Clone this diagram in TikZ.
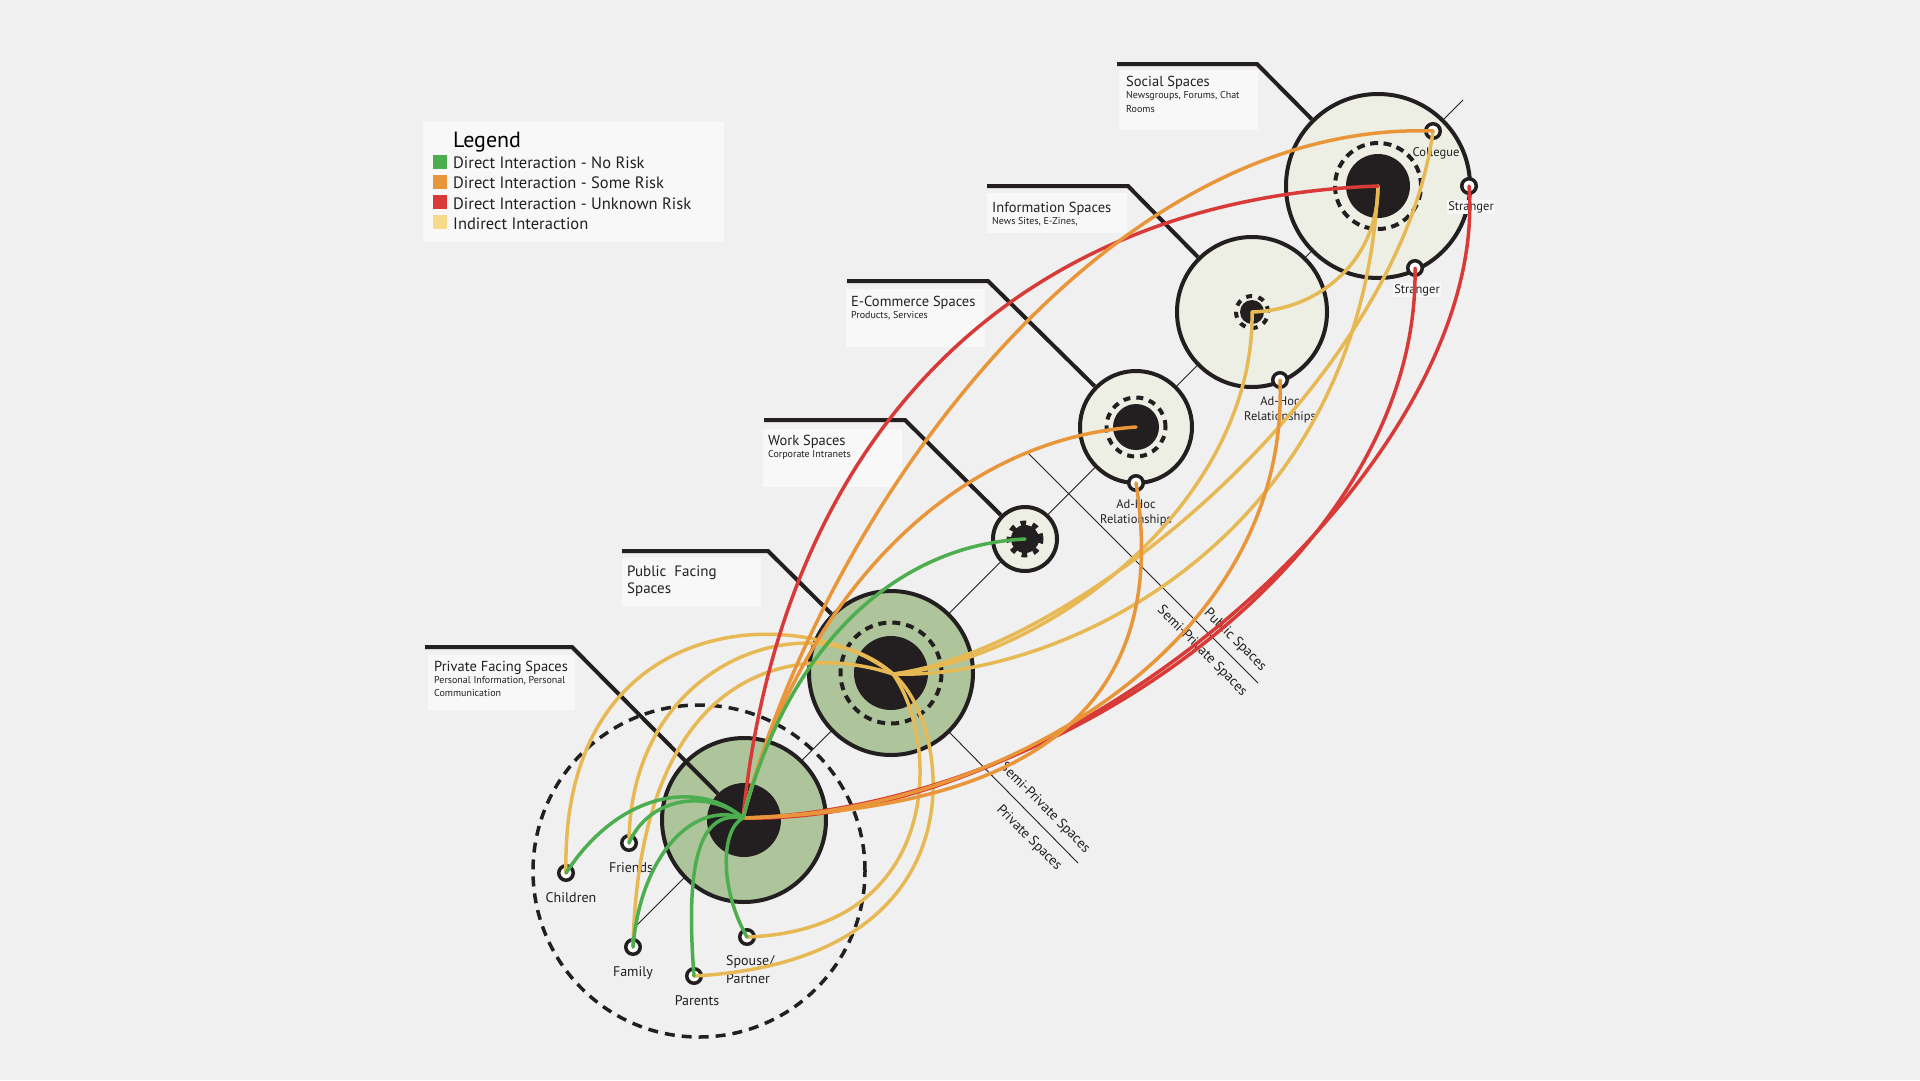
\documentclass[tikz,border=0pt]{standalone}
\usepackage{fontspec}
\setmainfont{PT Sans}
\definecolor{bgc}{HTML}{F0F0F0}
\definecolor{ink}{HTML}{231F20}
\definecolor{boxc}{HTML}{F8F8F8}
\definecolor{cgreen}{HTML}{4DAE50}
\definecolor{corange}{HTML}{E9963B}
\definecolor{cred}{HTML}{D83A37}
\definecolor{cyellow}{HTML}{E7B955}
\definecolor{legyellow}{HTML}{F6D98A}
\definecolor{pale}{HTML}{EDEFE5}
\definecolor{sage}{HTML}{AEC49B}
\begin{document}
\begin{tikzpicture}[x=1pt,y=-1pt]
\tikzset{
  space/.style={circle, draw=ink, line width=4pt, inner sep=0pt, minimum size=#1},
  hub/.style={circle, fill=ink, inner sep=0pt, minimum size=#1},
  ring/.style={draw=ink, line width=4pt, dash pattern=on 8pt off 5.5pt},
  member/.style={circle, draw=ink, fill=white, line width=3.5pt, minimum size=14.5pt, inner sep=0pt},
  callout/.style={draw=ink, line width=4pt},
  panel/.style={rectangle, fill=boxc, draw=none, inner sep=0pt, anchor=north west},
  ttl/.style={anchor=base west, inner sep=0pt, font=\fontsize{14.5}{16}\selectfont, text=ink},
  sub/.style={anchor=base west, inner sep=0pt, font=\fontsize{10}{12}\selectfont, text=ink},
  lab/.style={anchor=base, inner sep=0pt, font=\fontsize{14}{16}\selectfont, text=ink},
  slab/.style={anchor=base, inner sep=0pt, font=\fontsize{12.5}{14}\selectfont, text=ink},
  zone/.style={rotate=-45, inner sep=0pt, font=\fontsize{14}{16}\selectfont, text=ink},
  axisline/.style={draw=ink, line width=0.9pt},
  link/.style={line width=3.5pt, line cap=round},
  nolink/.style={link, draw=cgreen},
  somelink/.style={link, draw=corange},
  unklink/.style={link, draw=cred},
  indlink/.style={link, draw=cyellow},
  legsq/.style={rectangle, minimum size=14pt, inner sep=0pt, anchor=south west},
  legtxt/.style={anchor=base west, inner sep=0pt, font=\fontsize{16.5}{19}\selectfont, text=ink}
}
\fill[bgc] (0,0) rectangle (1920,1080);
\useasboundingbox (0,0) rectangle (1920,1080);

% ---- legend
\node[panel, minimum width=301pt, minimum height=120pt] (legend) at (423,122) {};
\node[anchor=base west, inner sep=0pt, font=\fontsize{22}{24}\selectfont] (legtitle) at (453,147) {Legend};
\node[legsq, fill=cgreen] (sq1) at (433,169) {};
\node[legsq, fill=corange] (sq2) at (433,189) {};
\node[legsq, fill=cred] (sq3) at (433,209) {};
\node[legsq, fill=legyellow] (sq4) at (433,229) {};
\node[legtxt] (lt1) at (453,168) {Direct Interaction - No Risk};
\node[legtxt] (lt2) at (453,188.5) {Direct Interaction - Some Risk};
\node[legtxt] (lt3) at (453,209) {Direct Interaction - Unknown Risk};
\node[legtxt] (lt4) at (453,229) {Indirect Interaction};

% ---- axis and zone lines
\coordinate (axA) at (637,925);
\coordinate (axB) at (1463,100);
\coordinate (pubc) at (891,673);
\coordinate (tA) at (1028,453);
\coordinate (tB) at (1258,683);
\coordinate (uB) at (1078,863);
\draw[axisline] (axA) -- (axB);
\draw[axisline] (tA) -- (tB);
\draw[axisline] (pubc) -- (uB);
\node[zone] (zpub) at (1235,640) {Public Spaces};
\node[zone] (zsemi1) at (1202,651) {Semi-Private Spaces};
\node[zone] (zsemi2) at (1045,808) {Semi-Private Spaces};
\node[zone] (zpriv) at (1029,838) {Private Spaces};

% ---- private zone
\node[circle, draw=ink, line width=3.5pt, dash pattern=on 10pt off 7pt, minimum size=332pt, inner sep=0pt] (privzone) at (699,871) {};

% ---- spaces
\node[space=184pt, fill=pale] (social) at (1378,186) {};
\node[space=150pt, fill=pale] (info) at (1252,312) {};
\node[space=112pt, fill=pale] (ecom) at (1136,427) {};
\node[space=64pt, fill=pale] (work) at (1025,539) {};
\node[space=164pt, fill=sage] (pub) at (pubc) {};
\node[space=164pt, fill=sage] (priv) at (744,820) {};

\draw[ring] (social.center) circle[radius=43pt];
\draw[ring, dash pattern=on 6pt off 6.5pt] (info.center) circle[radius=16pt];
\draw[ring, dash pattern=on 7pt off 6pt] (ecom.center) circle[radius=29.5pt];
\draw[ring, line width=5pt, dash pattern=on 5.5pt off 6.5pt] (work.center) circle[radius=16pt];
\draw[ring, dash pattern=on 8pt off 6pt] (pub.center) circle[radius=50.5pt];

\node[hub=64pt] (socialcore) at (social.center) {};
\node[hub=24pt] (infocore) at (info.center) {};
\node[hub=46pt] (ecomcore) at (ecom.center) {};
\node[hub=28pt] (workcore) at (work.center) {};
\node[hub=74pt] (pubcore) at (pub.center) {};
\node[hub=74pt] (privcore) at (priv.center) {};

% ---- panels and callouts
\node[panel, minimum width=139pt, minimum height=60pt] (socpanel) at (1119,70) {};
\node[ttl] (soct) at (1126,86) {Social Spaces};
\node[sub] (socs1) at (1126,98) {Newsgroups, Forums, Chat};
\node[sub] (socs2) at (1126,112) {Rooms};
\coordinate (socA) at (1117,64); \coordinate (socB) at (1257,64);
\draw[callout] (socA) -- (socB) -- (social);

\node[panel, minimum width=140pt, minimum height=40pt] (infopanel) at (987,193) {};
\node[ttl] (infot) at (992,212) {Information Spaces};
\node[sub] (infos) at (992,224) {News Sites, E-Zines,};
\coordinate (infA) at (987,186); \coordinate (infB) at (1128,186);
\draw[callout] (infA) -- (infB) -- (info);

\node[panel, minimum width=139pt, minimum height=58pt] (ecompanel) at (846,289) {};
\node[ttl] (ecomt) at (851,306) {E-Commerce Spaces};
\node[sub] (ecoms) at (851,318) {Products, Services};
\coordinate (ecA) at (847,281); \coordinate (ecB) at (988,281);
\draw[callout] (ecA) -- (ecB) -- (ecom);

\node[panel, minimum width=139pt, minimum height=58pt] (workpanel) at (763,429) {};
\node[ttl] (workt) at (768,445) {Work Spaces};
\node[sub] (works) at (768,457) {Corporate Intranets};
\coordinate (wkA) at (764,420); \coordinate (wkB) at (905,420);
\draw[callout] (wkA) -- (wkB) -- (work);

\node[panel, minimum width=139pt, minimum height=48pt] (pubpanel) at (622,558) {};
\node[ttl, font=\fontsize{15}{17}\selectfont] (pubt1) at (627,576) {Public\ \ Facing};
\node[ttl, font=\fontsize{15}{17}\selectfont] (pubt2) at (627,593) {Spaces};
\coordinate (pbA) at (622,551); \coordinate (pbB) at (768,551);
\draw[callout] (pbA) -- (pbB) -- (pub);

\node[panel, minimum width=147pt, minimum height=55pt] (privpanel) at (428,655) {};
\node[ttl] (privt) at (434,671) {Private Facing Spaces};
\node[sub] (privs1) at (434,683) {Personal Information, Personal};
\node[sub] (privs2) at (434,696) {Communication};
\coordinate (pvA) at (425,647); \coordinate (pvB) at (572,647);
\draw[callout] (pvA) -- (pvB) -- (privcore);

% ---- members
\node[member] (coll) at (1433,131) {};
\node[member] (strR) at (1469,186) {};
\node[member] (strB) at (1415,268) {};
\node[member] (adhocI) at (1280,380) {};
\node[member] (adhocE) at (1136,483) {};
\node[member] (children) at (566,873) {};
\node[member] (friends) at (629,843) {};
\node[member] (family) at (633,947) {};
\node[member] (parents) at (694,976) {};
\node[member] (spouse) at (747,937) {};

\node[slab] (lcoll) at (1436,156) {Collegue};
\node[slab, fill=boxc, inner sep=1.5pt] (lstrR) at (1471,210) {Stranger};
\node[slab, fill=boxc, inner sep=1.5pt] (lstrB) at (1417,293) {Stranger};
\node[slab] (lai1) at (1280,405) {Ad-Hoc};
\node[slab] (lai2) at (1280,420) {Relationships};
\node[slab] (lae1) at (1136,508) {Ad-Hoc};
\node[slab] (lae2) at (1136,523) {Relationships};
\node[lab] (lchildren) at (571,902) {Children};
\node[lab] (lfriends) at (631,872) {Friends};
\node[lab] (lfamily) at (633,976) {Family};
\node[lab] (lparents) at (697,1005) {Parents};
\node[lab, anchor=base west] (lspouse1) at (726,965) {Spouse/};
\node[lab, anchor=base west] (lspouse2) at (726,983) {Partner};

% ---- links
\coordinate (H) at (743,818);
\coordinate (P) at (893,674);
% indirect
\draw[indlink] (P) .. controls (800,600) and (560,610) .. (children.center);
\draw[indlink] (P) .. controls (810,600) and (630,660) .. (friends.center);
\draw[indlink] (P) .. controls (790,640) and (640,670) .. (family.center);
\draw[indlink] (P) .. controls (940,740) and (945,930) .. (spouse.center);
\draw[indlink] (P) .. controls (950,720) and (990,960) .. (parents.center);
\draw[indlink] (P) .. controls (1060,680) and (1360,540) .. (social.center);
\draw[indlink] (P) .. controls (1080,650) and (1400,380) .. (coll.center);
\draw[indlink] (P) .. controls (1050,660) and (1255,500) .. (info.center);
\draw[indlink] (info.center) .. controls (1320,310) and (1378,260) .. (social.center);
% unknown risk
\draw[unklink] (H) .. controls (780,450) and (1000,200) .. (social.center);
\draw[unklink] (H) .. controls (1050,810) and (1420,560) .. (strB.center);
\draw[unklink] (H) .. controls (1080,825) and (1490,460) .. (strR.center);
% some risk
\draw[somelink] (H) .. controls (820,520) and (1100,120) .. (coll.center);
\draw[somelink] (H) .. controls (800,600) and (950,440) .. (ecom.center);
\draw[somelink] (H) .. controls (950,810) and (1180,760) .. (adhocE.center);
\draw[somelink] (H) .. controls (990,815) and (1290,650) .. (adhocI.center);
% no risk
\draw[nolink] (H) .. controls (790,640) and (900,545) .. (work.center);
\draw[nolink] (H) .. controls (700,780) and (620,790) .. (children.center);
\draw[nolink] (H) .. controls (710,790) and (650,795) .. (friends.center);
\draw[nolink] (H) .. controls (690,800) and (640,860) .. (family.center);
\draw[nolink] (H) .. controls (700,810) and (685,860) .. (parents.center);
\draw[nolink] (H) .. controls (720,830) and (720,890) .. (spouse.center);
\end{tikzpicture}
\end{document}
